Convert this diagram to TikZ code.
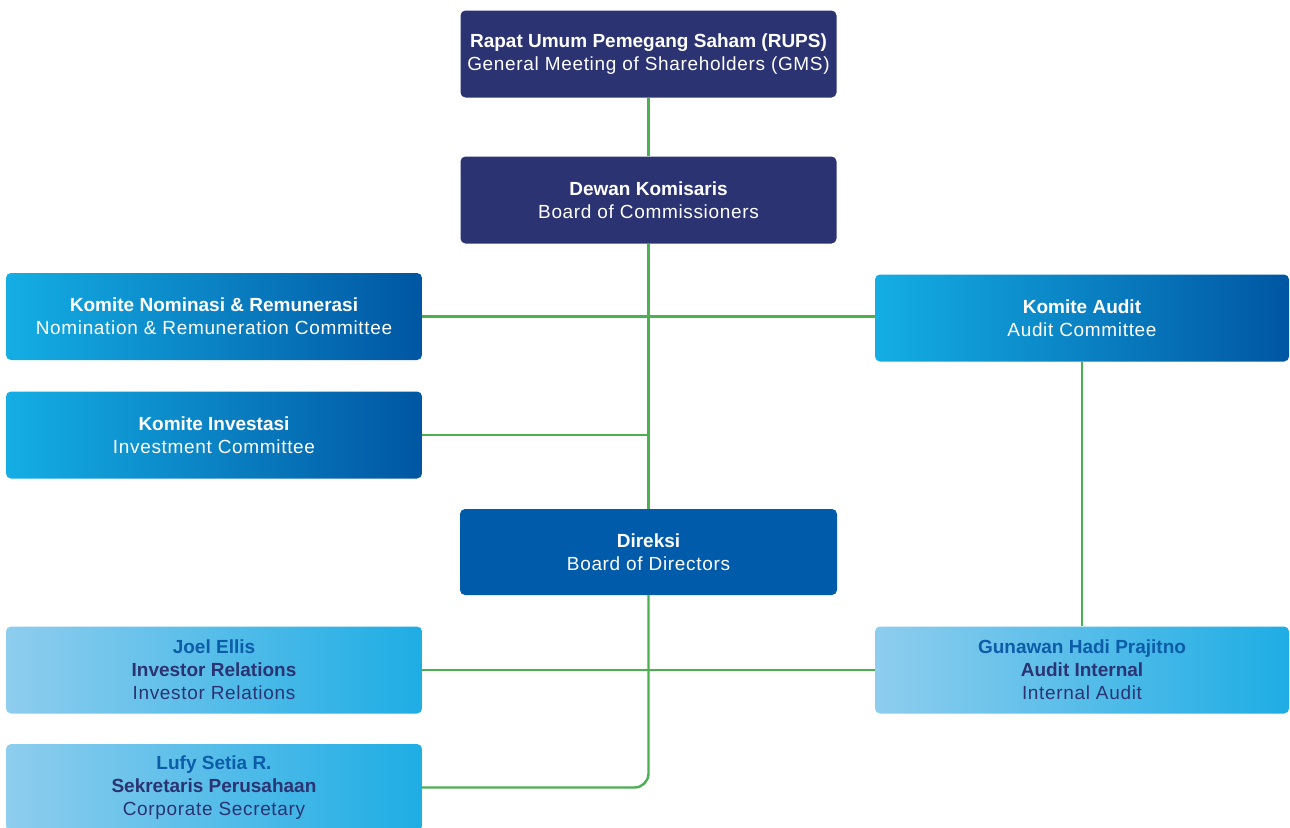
\documentclass[tikz,border=0pt]{standalone}
\usepackage{fontspec}
\setmainfont{Liberation Sans}
\newfontfamily\regsp[LetterSpace=3.5]{Liberation Sans}
\usepackage{tikz}
\usetikzlibrary{calc, positioning}

\definecolor{navy}{RGB}{43,51,114}
\definecolor{dirblue}{RGB}{0,91,170}
\definecolor{cyanL}{RGB}{20,174,228}
\definecolor{blueR}{RGB}{0,86,162}
\definecolor{paleL}{RGB}{142,205,238}
\definecolor{paleR}{RGB}{30,173,228}
\definecolor{namblue}{RGB}{12,92,168}
\definecolor{linkgreen}{RGB}{76,175,80}

\tikzset{
	box/.style = {rounded corners = 5pt, align = center, inner sep = 0pt,
		font = \regsp\fontsize{19}{23}\selectfont},
	topbox/.style = {box, fill = navy, text = white, minimum width = 376pt, minimum height = 87pt},
	dirbox/.style = {box, fill = dirblue, text = white, minimum width = 377pt, minimum height = 86pt},
	commbox/.style = {box, left color = cyanL, right color = blueR, text = white, minimum width = 416pt, minimum height = 87pt},
	staffbox/.style = {box, left color = paleL, right color = paleR, text = navy, minimum width = 416pt, minimum height = 87pt},
	link/.style = {draw = linkgreen, line width = 2.4pt}
}

\newcommand{\hd}[1]{{\rmfamily\bfseries #1}}
\newcommand{\nm}[1]{\textcolor{namblue}{\hd{#1}}}

\begin{document}
\begin{tikzpicture}[x = 1pt, y = 1pt]
	\useasboundingbox[fill = white] (0,0) rectangle (1290,-827);

	% top of the structure
	\node[topbox] (rups) at (648.5,-54) {\hd{Rapat Umum Pemegang Saham (RUPS)}\\General Meeting of Shareholders (GMS)};
	\node[topbox] (dk) at (648.5,-200) {\hd{Dewan Komisaris}\\Board of Commissioners};
	\node[dirbox] (dir) at (648.5,-552) {\hd{Direksi}\\Board of Directors};

	% committees
	\node[commbox] (nom) at (214,-316.5) {\hd{Komite Nominasi \& Remunerasi}\\Nomination \& Remuneration Committee};
	\node[commbox] (inv) at (214,-435) {\hd{Komite Investasi}\\Investment Committee};
	\node[commbox, minimum width = 414pt] (aud) at (1082,-318) {\hd{Komite Audit}\\Audit Committee};

	% units
	\node[staffbox] (ir) at (214,-670) {\nm{Joel Ellis}\\\hd{Investor Relations}\\Investor Relations};
	\node[staffbox] (sek) at (214,-787.5) {\nm{Lufy Setia R.}\\\hd{Sekretaris Perusahaan}\\Corporate Secretary};
	\node[staffbox, minimum width = 414pt] (ia) at (1082,-670) {\nm{Gunawan Hadi Prajitno}\\\hd{Audit Internal}\\Internal Audit};

	% connectors
	\begin{scope}[link]
		\draw (rups.south) -- (dk.north);
		\draw (dk.south) -- (dir.north);
		\draw (nom.east) -- (nom.east -| aud.west);
		\draw (inv.east) -- (inv.east -| dk.south);
		\draw (aud.south) -- (ia.north);
		\draw (ir.east) -- (ir.east -| ia.west);
		\draw[rounded corners = 14pt] (dir.south) |- (sek.east);
	\end{scope}
\end{tikzpicture}
\end{document}
